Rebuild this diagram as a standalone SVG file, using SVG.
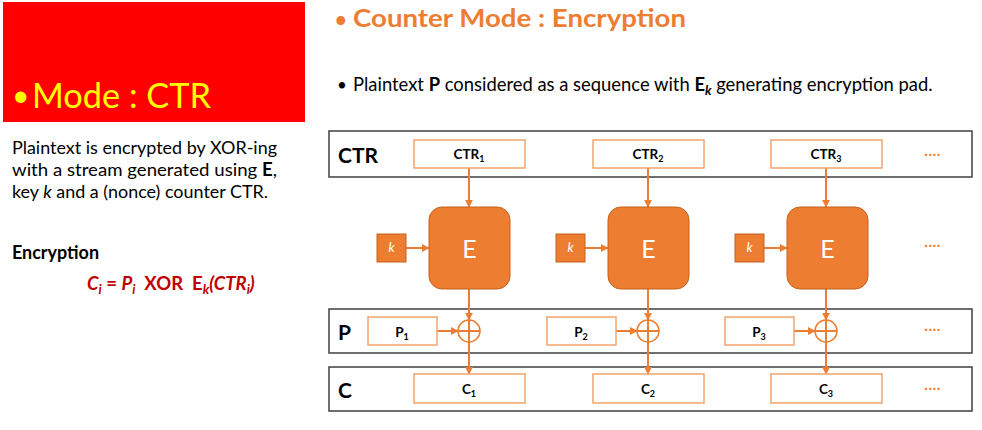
<svg xmlns="http://www.w3.org/2000/svg" width="982" height="430" viewBox="0 0 982 430">
<defs>
<marker id="ah" viewBox="0 0 10 10" refX="9" refY="5" markerWidth="4" markerHeight="4" orient="auto">
<path d="M0,0 L10,5 L0,10 z" fill="#ED7D31"/>
</marker>
<style>
.t{font-family:Lato,"Open Sans","Liberation Sans",sans-serif}
.band{fill:#fff;stroke:#404040;stroke-width:1.5}
.box{fill:#fff;stroke:#F4A46E;stroke-width:1.5}
.lbl{font-family:Lato,"Open Sans","Liberation Sans",sans-serif;font-size:13.5px;font-weight:bold;text-anchor:middle;fill:#000}
.blbl{font-family:Lato,"Open Sans","Liberation Sans",sans-serif;font-size:21px;font-weight:bold;fill:#000}
.eb{fill:#ED7D31;stroke:#C4621F;stroke-width:1}
.etx{font-family:Lato,"Open Sans","Liberation Sans",sans-serif;font-size:25px;fill:#fff;text-anchor:middle}
.ktx{font-family:Lato,"Open Sans","Liberation Sans",sans-serif;font-size:13px;font-style:italic;fill:#fff;text-anchor:middle}
.conn{stroke:#ED7D31;stroke-width:2;fill:none}
.arr{marker-end:url(#ah)}
.xor{fill:#fff;stroke:#ED7D31;stroke-width:1.5}
.dots{font-family:Lato,"Open Sans","Liberation Sans",sans-serif;fill:#ED7D31;font-size:16px}
.sub{font-size:9px}
</style>
</defs>

<g id="header">
<rect x="3" y="2" width="302" height="120" fill="#FF0000"/>
<text class="t" x="12" y="106" font-size="30" fill="#FFFF00">•</text>
<text class="t" x="32" y="108" font-size="35" fill="#FFFF00" textLength="179" lengthAdjust="spacingAndGlyphs">Mode : CTR</text>
</g>

<g id="description" class="t" font-size="18" fill="#000">
<text x="12" y="154" textLength="265" lengthAdjust="spacingAndGlyphs">Plaintext is encrypted by XOR-ing</text>
<text x="12" y="176" textLength="265" lengthAdjust="spacingAndGlyphs">with a stream generated using <tspan font-weight="bold">E</tspan>,</text>
<text x="12" y="198" textLength="256" lengthAdjust="spacingAndGlyphs">key <tspan font-style="italic">k</tspan> and a (nonce) counter CTR.</text>
<text x="12" y="259" font-weight="bold" textLength="87" lengthAdjust="spacingAndGlyphs">Encryption</text>
<text x="87" y="290" font-size="18.5" font-weight="bold" fill="#C00000" style="white-space:pre"><tspan font-style="italic">C</tspan><tspan font-style="italic" font-size="13" dy="4">i</tspan><tspan dy="-4"> = </tspan><tspan font-style="italic">P</tspan><tspan font-style="italic" font-size="13" dy="4">i</tspan><tspan dy="-4">  XOR  E</tspan><tspan font-style="italic" font-size="13" dy="4">k</tspan><tspan dy="-4" font-style="italic">(CTR</tspan><tspan font-style="italic" font-size="13" dy="4">i</tspan><tspan dy="-4" font-style="italic">)</tspan></text>
</g>

<g id="title">
<text class="t" x="335" y="27" font-size="20" font-weight="bold" fill="#ED7D31">•</text>
<text class="t" x="353" y="27" font-size="24" font-weight="bold" fill="#ED7D31" textLength="333" lengthAdjust="spacingAndGlyphs">Counter Mode : Encryption</text>
<text class="t" x="337" y="91" font-size="17" fill="#000">•</text>
<text class="t" x="353" y="91" font-size="18.4" fill="#000">Plaintext <tspan font-weight="bold">P</tspan> considered as a sequence with <tspan font-weight="bold">E</tspan><tspan font-weight="bold" font-style="italic" font-size="13" dy="4">k</tspan><tspan dy="-4"> generating encryption pad.</tspan></text>
</g>

<g id="bands">
<rect id="band-ctr" class="band" x="329" y="131" width="643" height="46"/>
<rect id="band-p" class="band" x="329" y="309" width="643" height="44"/>
<rect id="band-c" class="band" x="329" y="367" width="643" height="44"/>
<text class="blbl" x="338" y="163">CTR</text>
<text class="blbl" x="338" y="340">P</text>
<text class="blbl" x="338" y="398">C</text>
</g>

<g id="connectors">
<line class="conn arr" x1="469" y1="168" x2="469" y2="207"/>
<line class="conn arr" x1="406" y1="248" x2="429" y2="248"/>
<line class="conn arr" x1="469" y1="289" x2="469" y2="320"/>
<line class="conn arr" x1="437" y1="331" x2="458" y2="331"/>
<line class="conn arr" x1="469" y1="342" x2="469" y2="374"/>

<line class="conn arr" x1="648" y1="168" x2="648" y2="207"/>
<line class="conn arr" x1="585" y1="248" x2="608" y2="248"/>
<line class="conn arr" x1="648" y1="289" x2="648" y2="320"/>
<line class="conn arr" x1="616" y1="331" x2="637" y2="331"/>
<line class="conn arr" x1="648" y1="342" x2="648" y2="374"/>

<line class="conn arr" x1="826" y1="168" x2="826" y2="207"/>
<line class="conn arr" x1="764" y1="248" x2="787" y2="248"/>
<line class="conn arr" x1="826" y1="289" x2="826" y2="320"/>
<line class="conn arr" x1="794" y1="331" x2="815" y2="331"/>
<line class="conn arr" x1="826" y1="342" x2="826" y2="374"/>
</g>

<g id="ctr1"><rect class="box" x="414" y="140" width="111" height="28"/><text class="lbl" x="469" y="159">CTR<tspan class="sub" dy="3">1</tspan></text></g>
<g id="ctr2"><rect class="box" x="593" y="140" width="111" height="28"/><text class="lbl" x="648" y="159">CTR<tspan class="sub" dy="3">2</tspan></text></g>
<g id="ctr3"><rect class="box" x="771" y="140" width="111" height="28"/><text class="lbl" x="826" y="159">CTR<tspan class="sub" dy="3">3</tspan></text></g>

<g id="k1"><rect class="eb" x="377" y="234" width="29" height="28"/><text class="ktx" x="391.5" y="252">k</text></g>
<g id="k2"><rect class="eb" x="556" y="234" width="29" height="28"/><text class="ktx" x="570.5" y="252">k</text></g>
<g id="k3"><rect class="eb" x="735" y="234" width="29" height="28"/><text class="ktx" x="749.5" y="252">k</text></g>

<g id="e1"><rect class="eb" x="429" y="207" width="81" height="82" rx="13"/><text class="etx" x="469.5" y="258">E</text></g>
<g id="e2"><rect class="eb" x="608" y="207" width="81" height="82" rx="13"/><text class="etx" x="648.5" y="258">E</text></g>
<g id="e3"><rect class="eb" x="787" y="207" width="81" height="82" rx="13"/><text class="etx" x="827.5" y="258">E</text></g>

<g id="p1"><rect class="box" x="368" y="317" width="69" height="28"/><text class="lbl" x="402" y="337">P<tspan class="sub" dy="3">1</tspan></text></g>
<g id="p2"><rect class="box" x="547" y="317" width="69" height="28"/><text class="lbl" x="581" y="337">P<tspan class="sub" dy="3">2</tspan></text></g>
<g id="p3"><rect class="box" x="725" y="317" width="69" height="28"/><text class="lbl" x="759" y="337">P<tspan class="sub" dy="3">3</tspan></text></g>

<g id="xor1"><circle class="xor" cx="469" cy="331" r="11"/><path class="conn" stroke-width="1.5" d="M458,331 H480 M469,320 V342"/></g>
<g id="xor2"><circle class="xor" cx="648" cy="331" r="11"/><path class="conn" stroke-width="1.5" d="M637,331 H659 M648,320 V342"/></g>
<g id="xor3"><circle class="xor" cx="826" cy="331" r="11"/><path class="conn" stroke-width="1.5" d="M815,331 H837 M826,320 V342"/></g>

<g id="c1"><rect class="box" x="414" y="374" width="111" height="29"/><text class="lbl" x="469" y="394">C<tspan class="sub" dy="3">1</tspan></text></g>
<g id="c2"><rect class="box" x="593" y="374" width="111" height="29"/><text class="lbl" x="648" y="394">C<tspan class="sub" dy="3">2</tspan></text></g>
<g id="c3"><rect class="box" x="771" y="374" width="111" height="29"/><text class="lbl" x="826" y="394">C<tspan class="sub" dy="3">3</tspan></text></g>

<g id="dots">
<text class="dots" x="924" y="159">····</text>
<text class="dots" x="924" y="250">····</text>
<text class="dots" x="924" y="334">····</text>
<text class="dots" x="924" y="393">····</text>
</g>
</svg>
